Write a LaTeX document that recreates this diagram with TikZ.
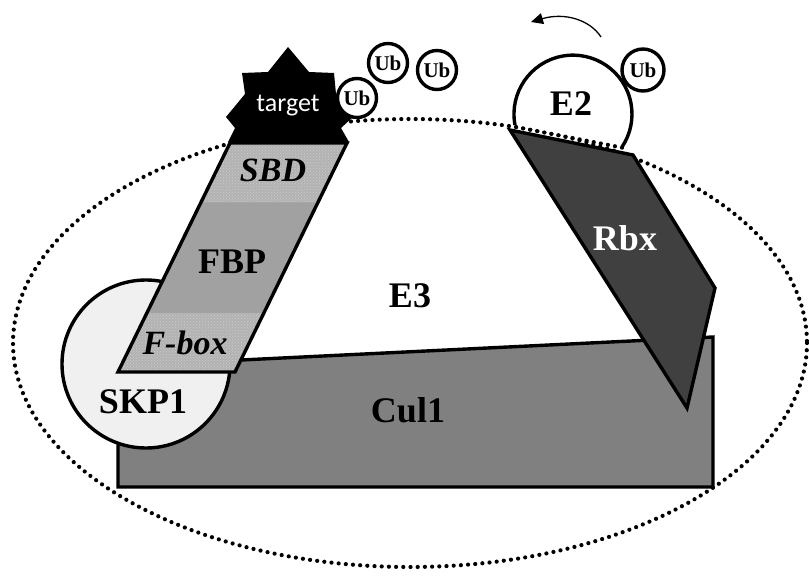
\documentclass[tikz,border=0pt]{standalone}
\usepackage{fontspec}
\setmainfont{Liberation Serif}
\newfontfamily\tagfont{Carlito}
\usetikzlibrary{arrows.meta,patterns}

\tikzset{
  outline/.style={draw=black, line width=3.4pt, line join=miter},
  bigtext/.style={inner sep=0pt, font=\bfseries\fontsize{36}{36}\selectfont},
  domtext/.style={inner sep=0pt, font=\bfseries\itshape\fontsize{34}{34}\selectfont},
  ubball/.style={circle, draw=black, fill=white, line width=3.4pt, minimum size=39pt,
                 inner sep=0pt, font=\bfseries\fontsize{21}{21}\selectfont},
  dots/.style={draw=black, line width=4.2pt, line cap=round, dash pattern=on 0pt off 7.2pt},
}

\begin{document}
\begin{tikzpicture}[x=1pt, y=-1pt]
\useasboundingbox (0,0) rectangle (809,578);

% the E3 complex boundary
\draw[dots] (410,343) ellipse [x radius=397, y radius=224];

% Cul1 scaffold
\draw[outline, fill=black!50] (118,487) -- (713,487) -- (713,337) -- (118,366) -- cycle;

% SKP1 adaptor
\draw[outline, fill=black!6] (146,364) circle [radius=84];

% F-box protein with its two domains
\fill[black!37] (230,143) -- (347,143) -- (235,372) -- (118,372) -- cycle;
\begin{scope}
  \clip (230,143) -- (347,143) -- (235,372) -- (118,372) -- cycle;
  \fill[black!30] (100,143) rectangle (360,202);
  \fill[black!30] (100,313) rectangle (360,372);
  \fill[pattern=crosshatch dots, pattern color=white!80!black] (100,143) rectangle (360,202);
  \fill[pattern=crosshatch dots, pattern color=white!80!black] (100,313) rectangle (360,372);
\end{scope}
\draw[outline] (230,143) -- (347,143) -- (235,372) -- (118,372) -- cycle;

% substrate
\fill[black] (288,47) -- (309,72) -- (334,73) -- (336,94) -- (354,116) -- (341,128)
  -- (349,142) -- (228,142) -- (235,128) -- (226,117) -- (245,94) -- (242,73)
  -- (268,72) -- cycle;

% Rbx RING protein
\draw[outline, fill=black!75] (510,130) -- (633,155) -- (715,288) -- (687,408) -- cycle;

% E2 enzyme
\fill[white] (515,125) arc [start angle=169.4, end angle=393.7, radius=59] -- cycle;
\draw[draw=black, line width=3.4pt] (515,125) arc [start angle=169.4, end angle=393.7, radius=59];
\draw[dots] (516,127) -- (624,148);

% ubiquitin chain
\node[ubball] (ub1) at (357,98) {Ub};
\node[ubball] (ub2) at (388,63) {Ub};
\node[ubball] (ub3) at (437,70) {Ub};
\node[ubball, minimum size=42pt] (ub4) at (643,70) {Ub};

% transfer arrow
\coordinate (arrS) at (601,37);
\coordinate (arrE) at (531,22);
\draw[line width=1.3pt, -{Triangle[length=12pt, width=11pt]}]
  (arrS) .. controls (590,20) and (565,12) .. (arrE);

% labels
\node[inner sep=0pt, text=white, font=\tagfont\fontsize{26}{26}\selectfont] (target) at (288,106) {target};
\node[bigtext] (e2) at (571,104) {E2};
\node[bigtext] (e3) at (410,296) {E3};
\node[bigtext] (fbp) at (232,262) {FBP};
\node[domtext] (sbd) at (273,170) {SBD};
\node[domtext] (fbox) at (185,343) {F-box};
\node[bigtext] (skp1) at (143,402) {SKP1};
\node[bigtext] (cul1) at (408,410) {Cul1};
\node[bigtext, text=white] (rbx) at (625,238) {Rbx};
\end{tikzpicture}
\end{document}
